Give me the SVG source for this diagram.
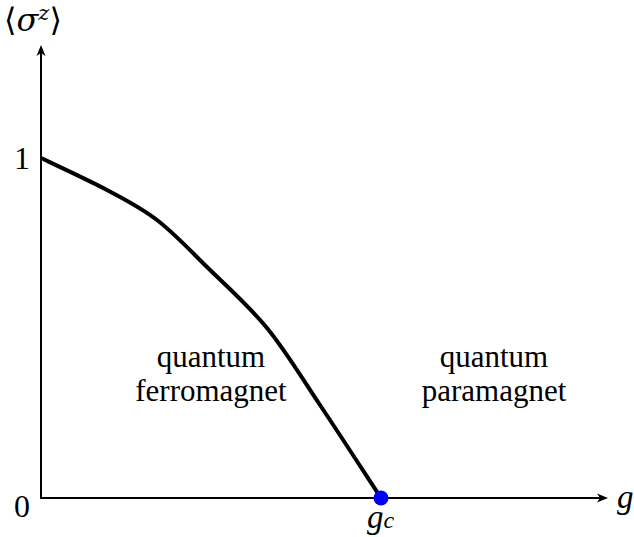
<svg xmlns="http://www.w3.org/2000/svg" width="634" height="537" viewBox="0 0 634 537">
<g id="connectors">
<line x1="41" y1="499" x2="41" y2="50" stroke="#000" stroke-width="2"/>
<path d="M41,45 L45.5,56 L41,53 L36.5,56 Z" fill="#000"/>
<line x1="40" y1="498" x2="602" y2="498" stroke="#000" stroke-width="2"/>
<path d="M608,498 L597,502.5 L600,498 L597,493.5 Z" fill="#000"/>
<path d="M41,158 C52,163.3 87.7,179.7 107,190 C126.3,200.3 140.3,207.2 157,220 C173.7,232.8 188.7,249 207,267 C225.3,285 248.2,305 267,328 C285.8,351 301,376.7 320,405 C339,433.3 370.8,482.5 381,498" fill="none" stroke="#000" stroke-width="4"/>
</g>
<g id="yaxis-label"><text x="4" y="31" font-size="32" font-family="'DejaVu Serif', serif">⟨<tspan font-style="italic">σ</tspan><tspan font-size="21" dy="-11" font-style="italic">z</tspan><tspan dy="11">⟩</tspan></text></g>
<g id="tick1"><text x="22" y="169" font-size="32" text-anchor="middle" font-family="'Liberation Serif', serif">1</text></g>
<g id="tick0"><text x="22" y="517" font-size="32" text-anchor="middle" font-family="'Liberation Serif', serif">0</text></g>
<g id="g-label"><text x="617" y="508" font-size="33" font-style="italic" font-family="'Liberation Serif', serif">g</text></g>
<g id="gc"><circle cx="381" cy="498" r="7.5" fill="#0000ff"/><text x="367" y="528" font-size="33" font-style="italic" font-family="'Liberation Serif', serif">g<tspan font-size="24">c</tspan></text></g>
<g id="ferro"><text x="211" y="367" font-size="31" text-anchor="middle" font-family="'Liberation Serif', serif">quantum</text><text x="211" y="401" font-size="31" text-anchor="middle" font-family="'Liberation Serif', serif">ferromagnet</text></g>
<g id="para"><text x="494" y="367" font-size="31" text-anchor="middle" font-family="'Liberation Serif', serif">quantum</text><text x="494" y="401" font-size="31" text-anchor="middle" font-family="'Liberation Serif', serif">paramagnet</text></g>
</svg>
